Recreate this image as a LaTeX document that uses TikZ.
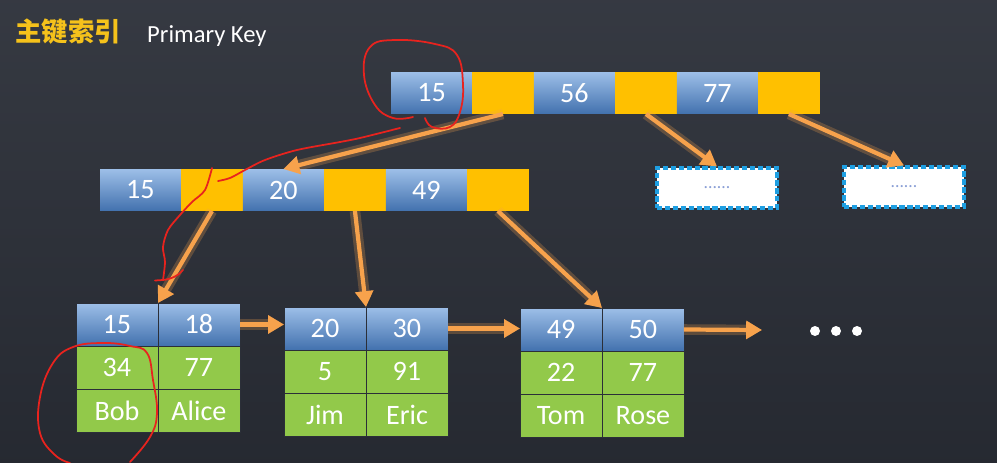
\documentclass[tikz,border=0pt]{standalone}
\usepackage{fontspec}
\setmainfont{Carlito}
\newfontfamily\cjk{Noto Sans CJK SC}
\usetikzlibrary{positioning,arrows.meta}

\definecolor{bgdark}{HTML}{2B2F38}
\definecolor{keytop}{HTML}{9DBFE8}
\definecolor{keybot}{HTML}{4271AE}
\definecolor{ptryellow}{HTML}{FFC000}
\definecolor{rowgreen}{HTML}{92C94A}
\definecolor{linkorange}{HTML}{F7A24C}
\definecolor{dashblue}{HTML}{1E9FE2}
\definecolor{dotblue}{HTML}{8A9FD6}
\definecolor{titleyellow}{HTML}{F5C21B}
\definecolor{penred}{HTML}{E8231E}

\begin{document}
\begin{tikzpicture}[
    x=0.02cm, y=-0.02cm,
    key/.style={
        rectangle,
        top color=keytop,
        bottom color=keybot,
        minimum width=1.62cm,
        minimum height=0.84cm,
        inner sep=0pt,
        outer sep=0pt,
        text=white,
        font=\fontsize{16}{18}\selectfont
    },
    ptr/.style={
        rectangle,
        fill=ptryellow,
        minimum width=1.24cm,
        minimum height=0.84cm,
        inner sep=0pt,
        outer sep=0pt
    },
    leafkey/.style={
        key,
        draw=bgdark,
        line width=0.5pt,
        minimum width=1.64cm,
        minimum height=0.86cm
    },
    leafval/.style={
        rectangle,
        fill=rowgreen,
        draw=bgdark,
        line width=0.5pt,
        minimum width=1.64cm,
        minimum height=0.86cm,
        inner sep=0pt,
        outer sep=0pt,
        text=white,
        font=\fontsize{16}{18}\selectfont
    },
    pagebox/.style={
        rectangle,
        fill=white,
        draw=dashblue,
        dash pattern=on 3pt off 1.5pt,
        line width=1.8pt,
        minimum width=2.4cm,
        minimum height=0.8cm,
        text=dotblue,
        font=\fontsize{10}{10}\selectfont
    },
    link/.style={
        draw=linkorange,
        line width=2.4pt,
        -{Triangle[length=9pt,width=10pt]},
        preaction={draw=linkorange, line width=6pt, opacity=0.25}
    },
    scribble/.style={draw=penred, line width=1pt, line cap=round},
    node distance=0pt
]

% background
\fill[top color=bgdark!95!white, bottom color=bgdark!88!black] (0,0) rectangle (997,463);
\useasboundingbox (0,0) rectangle (997,463);

% title
\node[text=titleyellow, font=\cjk\bfseries\fontsize{15}{18}\selectfont] (title) at (68,32) {主键索引};
\node[text=white, anchor=west, font=\fontsize{14}{16}\selectfont] (titleen) at (141,36) {Primary Key};

% root
\node[key, anchor=west] (k15) at (391,93) {15};
\node[ptr, right=of k15] (p1) {};
\node[key, right=of p1] (k56) {56};
\node[ptr, right=of k56] (p2) {};
\node[key, right=of p2] (k77) {77};
\node[ptr, right=of k77] (p3) {};

% second level
\node[key, anchor=west] (n15) at (100,190) {15};
\node[ptr, right=of n15] (q1) {};
\node[key, right=of q1] (n20) {20};
\node[ptr, right=of n20] (q2) {};
\node[key, right=of q2] (n49) {49};
\node[ptr, right=of n49] (q3) {};

\node[pagebox] (d1) at (717,188) {......};
\node[pagebox] (d2) at (904,187) {......};

% leaf 1
\node[leafkey, anchor=north west] (l1a) at (76,303) {15};
\node[leafkey, right=of l1a] (l1b) {18};
\node[leafval, below=of l1a] (l1c) {34};
\node[leafval, below=of l1b] (l1d) {77};
\node[leafval, below=of l1c] (l1e) {Bob};
\node[leafval, below=of l1d] (l1f) {Alice};

% leaf 2
\node[leafkey, anchor=north west] (l2a) at (284,307) {20};
\node[leafkey, right=of l2a] (l2b) {30};
\node[leafval, below=of l2a] (l2c) {5};
\node[leafval, below=of l2b] (l2d) {91};
\node[leafval, below=of l2c] (l2e) {Jim};
\node[leafval, below=of l2d] (l2f) {Eric};

% leaf 3
\node[leafkey, anchor=north west] (l3a) at (520,308) {49};
\node[leafkey, right=of l3a] (l3b) {50};
\node[leafval, below=of l3a] (l3c) {22};
\node[leafval, below=of l3b] (l3d) {77};
\node[leafval, below=of l3c] (l3e) {Tom};
\node[leafval, below=of l3d] (l3f) {Rose};

\coordinate (more) at (762,330);
\foreach \x in {815,836,857}
    \fill[white] (\x,331) circle[radius=0.1cm];

% arrows
\draw[link] (p1.south) -- (n20.north);
\draw[link] (p2.south) -- (d1.north);
\draw[link] (p3.south) -- (d2.north);

\draw[link] (q1.south) -- (l1a.north east);
\draw[link] (q2.south) -- (l2a.north east);
\draw[link] (q3.south) -- (l3a.north east);

\draw[link] (l1b.east) -- (l2a.west |- l1b.east);
\draw[link] (l2b.east) -- (l3a.west |- l2b.east);
\draw[link] (l3b.east) -- (more);

% red pen marks
\draw[scribble] plot[smooth, tension=0.7] coordinates {(413,117) (393,118) (375,105) (364,75) (370,47) (395,40) (435,44) (457,55) (463,85) (460,112) (450,127) (432,127) (425,118)};
\draw[scribble] plot[smooth] coordinates {(400,128) (360,138) (340,142) (297,150) (265,160) (245,170) (230,178) (218,181)};
\draw[scribble] plot[smooth] coordinates {(212,168) (205,190) (192,202) (180,215) (168,230) (163,247) (165,262) (163,280)};
\draw[scribble] (155,280.5) -- (163,280) .. controls (172,279) and (179,275) .. (183,270);
\draw[scribble] plot[smooth, tension=0.7] coordinates {(130,462) (150,437) (157,413) (153,380) (147,353) (130,346) (103,343) (73,347) (53,363) (40,397) (40,433) (55,455) (70,463)};

\end{tikzpicture}
\end{document}
